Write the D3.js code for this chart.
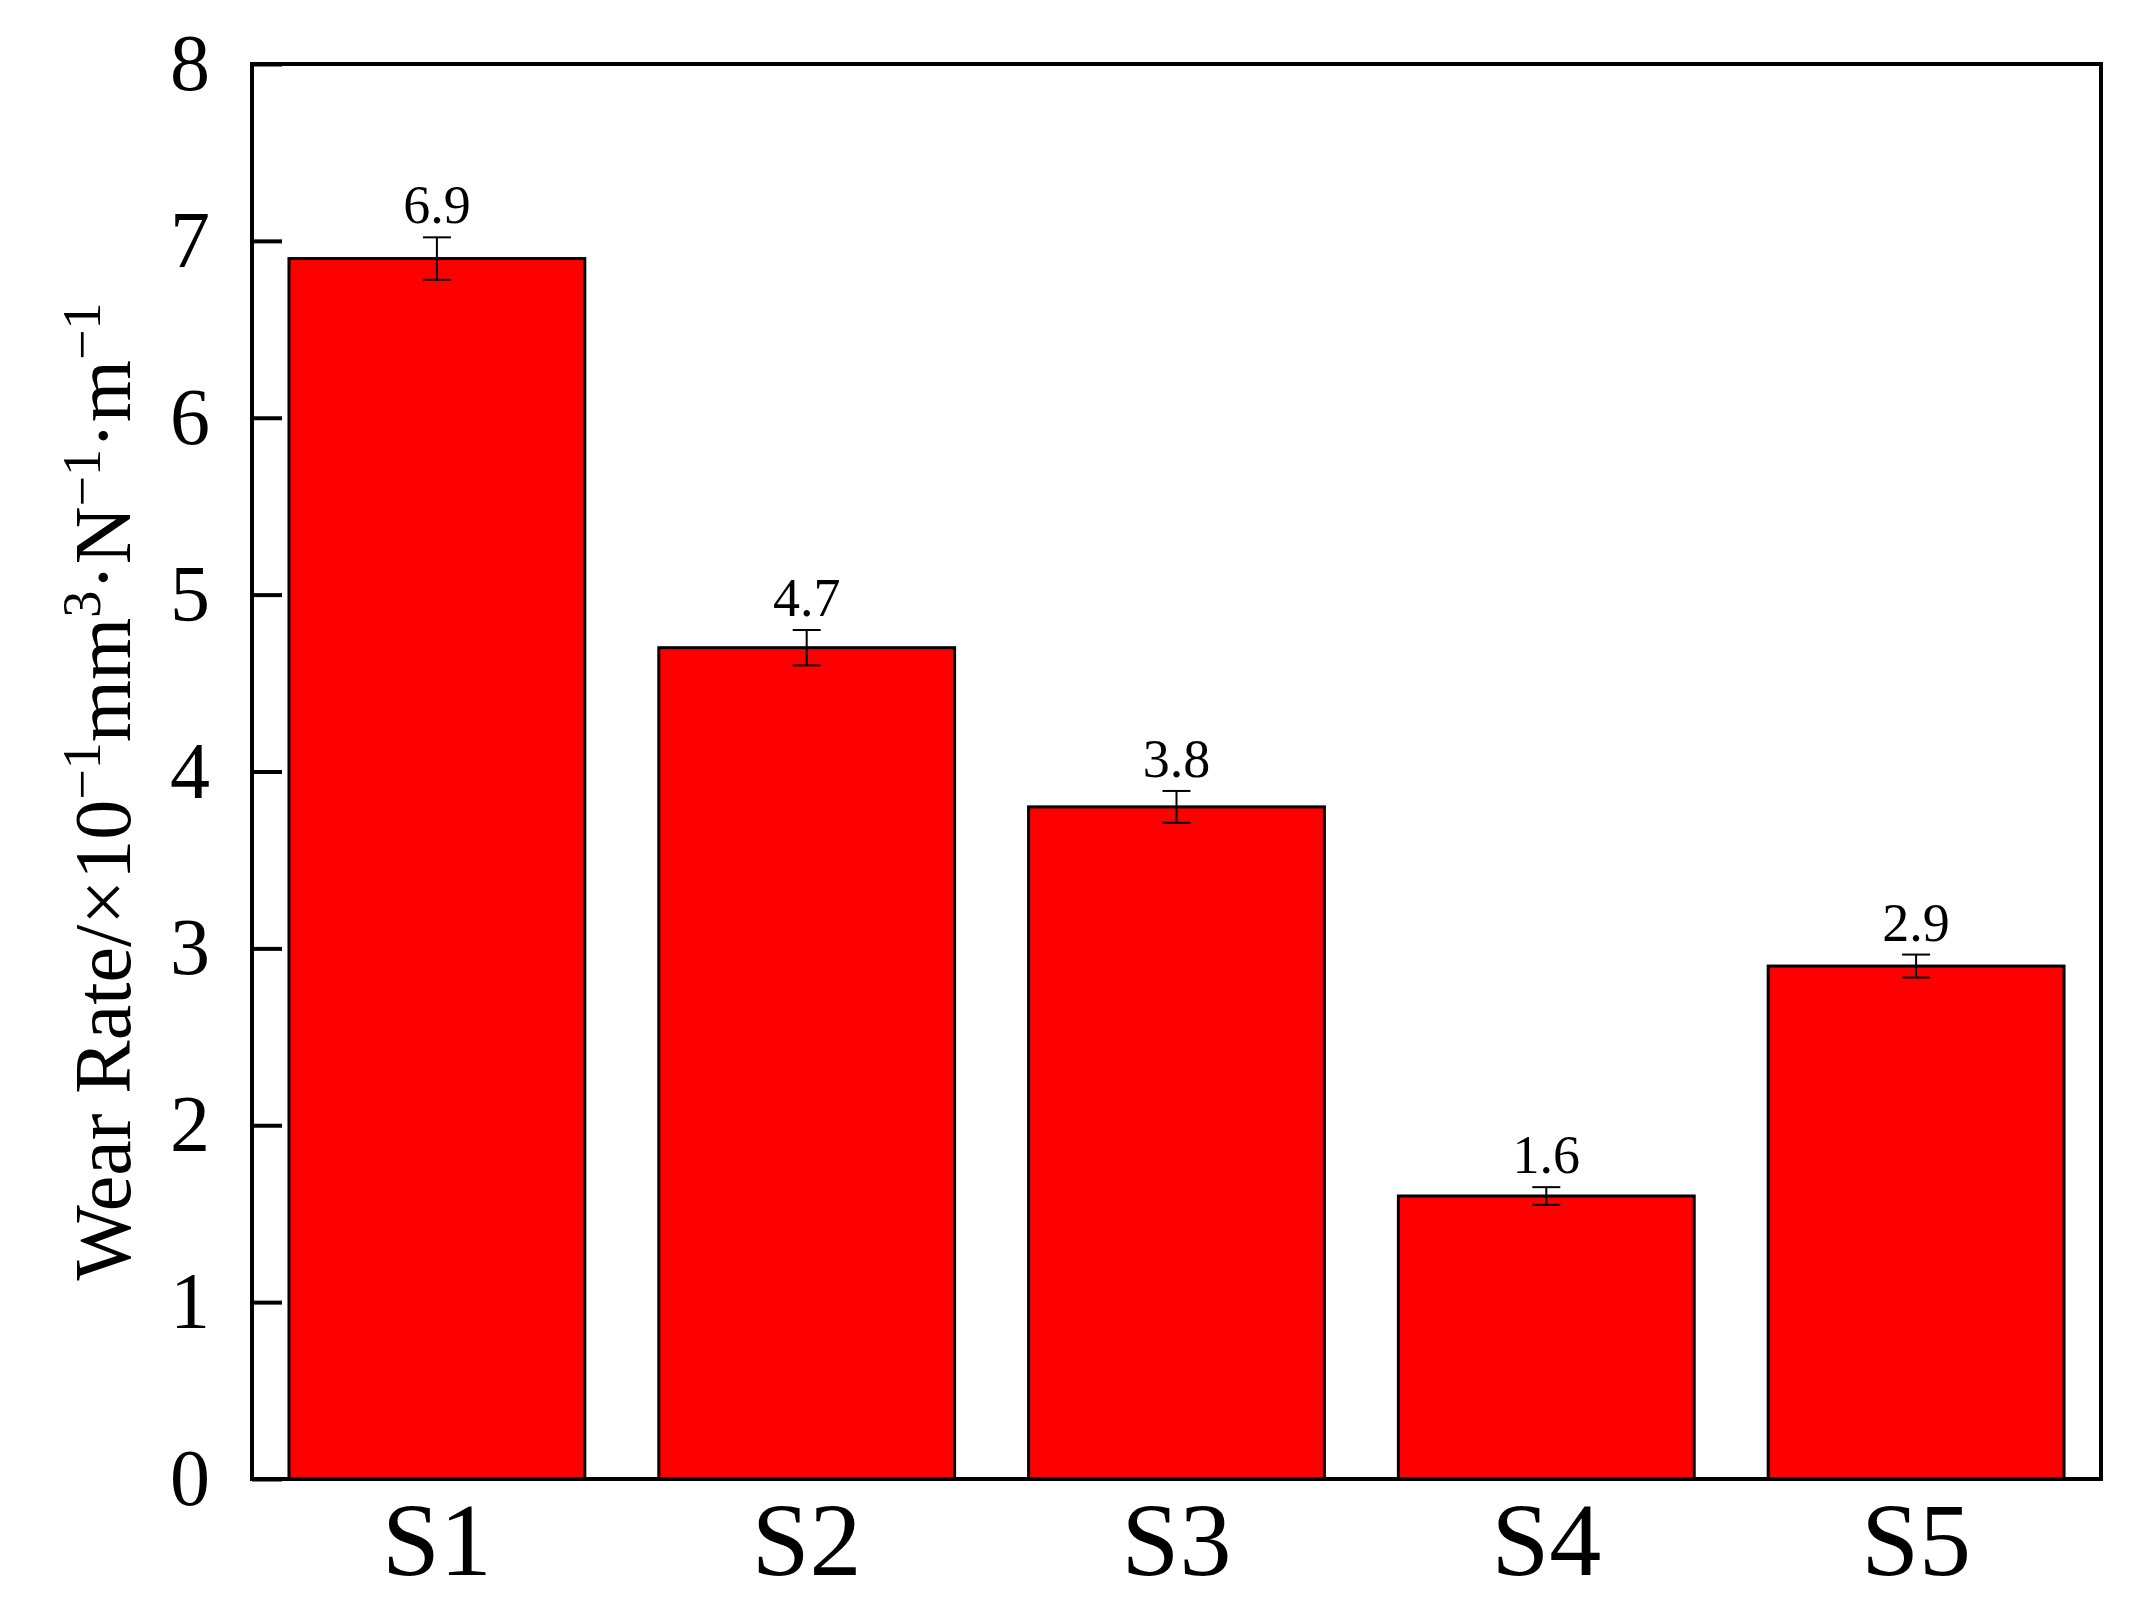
<!DOCTYPE html>
<html lang="en">
<head>
<meta charset="UTF-8" />
<title>Wear Rate</title>
<script src="https://d3js.org/d3.v7.min.js"></script>
<style>
  body { margin: 0; background: #fff; }
  text { font-family: "Liberation Serif", "Times New Roman", serif; }
</style>
</head>
<body>
<svg id="chart" width="2133" height="1611"></svg>
<script>
  var samples = ['S1', 'S2', 'S3', 'S4', 'S5']
  var wearRate = [6.9, 4.7, 3.8, 1.6, 2.9]
  var wearErr = [0.12, 0.1, 0.09, 0.05, 0.065]
  var yTicks = [0, 1, 2, 3, 4, 5, 6, 7, 8]

  var margins = { top: 64, bottom: 132, left: 252, right: 32 }
  var svg = d3.select('#chart')
  var width = +svg.attr('width')
  var height = +svg.attr('height')

  var x = d3.scaleBand().domain(samples)
    .range([margins.left, width - margins.right]).paddingInner(0.2).paddingOuter(0.1)
  var y = d3.scaleLinear().domain([0, 8]).range([height - margins.bottom, margins.top])

  // bars
  svg.selectAll('rect.bar').data(samples).enter().append('rect')
    .attr('x', d => x(d)).attr('width', x.bandwidth())
    .attr('y', (d, i) => y(wearRate[i]))
    .attr('height', (d, i) => y(0) - y(wearRate[i]))
    .attr('fill', '#ff0000').attr('stroke', '#000').attr('stroke-width', 3)

  // error bars
  var eg = svg.append('g').attr('stroke', '#000').attr('stroke-width', 2)
  samples.forEach(function (s, i) {
    var cx = x(s) + x.bandwidth() / 2
    var t = y(wearRate[i] + wearErr[i]), b = y(wearRate[i] - wearErr[i])
    eg.append('line').attr('x1', cx).attr('x2', cx).attr('y1', t).attr('y2', b)
    eg.append('line').attr('x1', cx - 14).attr('x2', cx + 14).attr('y1', t).attr('y2', t)
    eg.append('line').attr('x1', cx - 14).attr('x2', cx + 14).attr('y1', b).attr('y2', b)
    svg.append('text').attr('x', cx).attr('y', t - 14)
      .attr('text-anchor', 'middle').attr('font-size', 54).text(wearRate[i].toFixed(1))
  })

  // axes
  var yAxis = d3.axisLeft(y).tickValues(yTicks).tickSize(-30).tickPadding(42)
  var ga = svg.append('g').attr('transform', 'translate(' + margins.left + ',0)').call(yAxis)
  ga.select('.domain').remove()
  ga.selectAll('line').attr('stroke-width', 4)
  ga.selectAll('text').attr('font-size', 80).attr('font-family', '"Liberation Serif", serif')

  var xAxis = d3.axisBottom(x).tickSize(0).tickPadding(22)
  var gx = svg.append('g').attr('transform', 'translate(0,' + y(0) + ')').call(xAxis)
  gx.select('.domain').remove()
  gx.selectAll('text').attr('font-size', 104).attr('font-family', '"Liberation Serif", serif')

  // frame
  svg.append('rect').attr('x', margins.left).attr('y', margins.top)
    .attr('width', width - margins.left - margins.right)
    .attr('height', y(0) - margins.top)
    .attr('fill', 'none').attr('stroke', '#000').attr('stroke-width', 4)

  // y title
  var title = svg.append('text')
    .attr('transform', 'translate(130,' + (margins.top + (y(0) - margins.top) / 2 + 20) + ') rotate(-90)')
    .attr('text-anchor', 'middle').attr('font-size', 80)
  var parts = [['Wear Rate/×10', 0], ['−1', 1], ['mm', 0], ['3', 1], ['·N', 0], ['−1', 1], ['·m', 0], ['−1', 1]]
  parts.forEach(function (p) {
    title.append('tspan').text(p[0])
      .attr('font-size', p[1] ? 54 : 80)
      .attr('baseline-shift', p[1] ? '55%' : '0')
  })
</script>
</body>
</html>
